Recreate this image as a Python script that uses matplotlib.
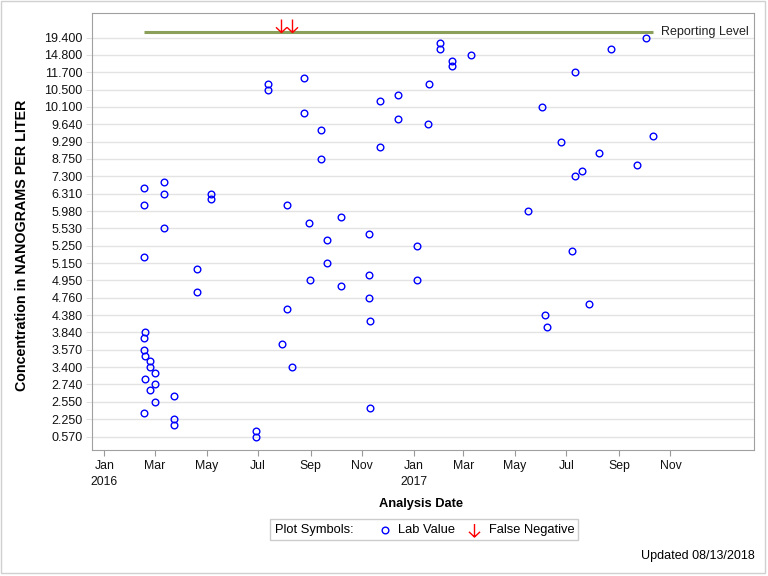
import numpy as np
import pandas as pd
import matplotlib
matplotlib.use('Agg')
import matplotlib.pyplot as plt
from matplotlib.path import Path
from matplotlib.lines import Line2D
from matplotlib.patches import Rectangle

plt.rcParams['font.family'] = ['Liberation Sans', 'DejaVu Sans']

# discrete concentration axis: every third level is labelled (bottom -> top)
tick_labels = ['0.570', '2.250', '2.550', '2.740', '3.400', '3.570', '3.840', '4.380',
               '4.760', '4.950', '5.150', '5.250', '5.530', '5.980', '6.310', '7.300',
               '8.750', '9.290', '9.640', '10.100', '10.500', '11.700', '14.800', '19.400']
reporting_level = 70  # one level above the top label

# lab values: analysis date and level on the discrete axis
lab_dates = ['2016-02-17'] * 6 + ['2016-02-18'] * 3 + ['2016-02-24'] * 3 + ['2016-03-01'] * 3 + \
    ['2016-03-11'] * 3 + ['2016-03-23'] * 3 + ['2016-04-20'] * 2 + ['2016-05-06'] * 2 + \
    ['2016-06-29'] * 2 + ['2016-07-13'] * 2 + ['2016-07-29'] + ['2016-08-04'] * 2 + \
    ['2016-08-10'] + ['2016-08-24'] * 2 + ['2016-08-30'] + ['2016-08-31'] + \
    ['2016-09-13'] * 2 + ['2016-09-21'] * 2 + ['2016-10-07'] * 2 + ['2016-11-09'] * 3 + \
    ['2016-11-11'] * 2 + ['2016-11-22'] * 2 + ['2016-12-13'] * 2 + ['2017-01-05'] * 2 + \
    ['2017-01-18', '2017-01-19'] + ['2017-02-01'] * 2 + ['2017-02-16'] * 2 + \
    ['2017-03-10', '2017-05-17', '2017-06-02', '2017-06-05', '2017-06-08', '2017-06-24',
     '2017-07-08'] + ['2017-07-11'] * 2 + \
    ['2017-07-19', '2017-07-28', '2017-08-08', '2017-08-23', '2017-09-23', '2017-10-03',
     '2017-10-11']
lab_levels = [43, 40, 31, 17, 15, 4,
              18, 14, 10,
              13, 12, 8,
              11, 9, 6,
              44, 42, 36,
              7, 3, 2,
              29, 25,
              42, 41,
              1, 0,
              61, 60,
              16,
              40, 22,
              12,
              62, 56,
              37,
              27,
              53, 48,
              34, 30,
              38, 26,
              35, 28, 24,
              20, 5,
              58, 50,
              59, 55,
              33, 27,
              54, 61,
              68, 67,
              65, 64,
              66, 39, 57, 21, 19, 51, 32,
              63, 45,
              46, 23, 49, 67, 47, 69, 52]

false_neg_dates = ['2016-07-28', '2016-08-10']

lab_dates = pd.to_datetime(lab_dates)
false_neg_dates = pd.to_datetime(false_neg_dates)

fig = plt.figure(figsize=(7.68, 5.76), dpi=100)
ax = fig.add_axes([0.1194, 0.2188, 0.8624, 0.7581])

# reporting level line across the data's date range
ax.plot([lab_dates.min(), lab_dates.max()], [reporting_level, reporting_level],
        color='#8aa05a', lw=2.2, solid_capstyle='butt', zorder=2)
ax.text(lab_dates.max() + pd.Timedelta(days=10), reporting_level, 'Reporting Level',
        fontsize=9, va='center', ha='left', color='#222222')

ax.plot(lab_dates, lab_levels, 'o', ms=4.8, mfc='none', mec='#0000ff', mew=1.0, zorder=3)

# down arrow, tip at the origin
arrow_tip = Path([(0, 0), (0, 2), (-0.85, 0.8), (0, 0), (0.85, 0.8)],
                 [Path.MOVETO, Path.LINETO, Path.MOVETO, Path.LINETO, Path.LINETO])
ax.plot(false_neg_dates, [reporting_level] * len(false_neg_dates), ls='none',
        marker=arrow_tip, ms=18.7, mfc='none', mec='#ff0000', mew=1.0, zorder=4)

ax.set_xlim(pd.Timestamp('2015-12-17'), pd.Timestamp('2018-02-08'))
ax.set_ylim(-2.33, 73.2)

xt = pd.date_range('2016-01-01', '2017-11-01', freq='2MS')
ax.set_xticks(xt)
ax.set_xticklabels([d.strftime('%b') + ('\n' + d.strftime('%Y') if d.month == 1 else '') for d in xt],
                   fontsize=8.8, linespacing=1.4)
ax.set_yticks(np.arange(0, 3 * len(tick_labels), 3))
ax.set_yticklabels(tick_labels, fontsize=9)

ax.grid(axis='y', color='#e3e3e3', lw=1.0)
ax.set_axisbelow(True)
ax.tick_params(axis='x', length=4.5, color='#999999', pad=3, labelcolor='#111111')
ax.tick_params(axis='y', length=4.5, color='#e0e0e0', pad=2, labelcolor='#111111')
for s in ax.spines.values():
    s.set_color('#a0a0a0')

fig.text(22 / 768, 1 - 245 / 576, 'Concentration in NANOGRAMS PER LITER', rotation=90,
         fontsize=10.3, fontweight='bold', ha='center', va='center')
fig.text(421 / 768, 1 - 504 / 576, 'Analysis Date', fontsize=9.3, fontweight='bold',
         ha='center', va='center')

# legend box
fig.add_artist(Rectangle((270 / 768, 1 - 540 / 576), 308 / 768, 21 / 576,
                         transform=fig.transFigure, fill=False, ec='#cccccc', lw=1.0))
ly = 1 - 530 / 576
fig.text(275 / 768, ly, 'Plot Symbols:', fontsize=9.3, va='center', ha='left')
fig.add_artist(Line2D([385 / 768], [ly], transform=fig.transFigure, marker='o', ms=4.8,
                      mfc='none', mec='#0000ff', mew=1.0, ls='none'))
fig.text(398 / 768, ly, 'Lab Value', fontsize=9.3, va='center', ha='left')
arrow_mid = Path([(0, -1), (0, 1), (-0.85, -0.2), (0, -1), (0.85, -0.2)],
                 [Path.MOVETO, Path.LINETO, Path.MOVETO, Path.LINETO, Path.LINETO])
fig.add_artist(Line2D([474 / 768], [ly], transform=fig.transFigure, marker=arrow_mid, ms=9.4,
                      mfc='none', mec='#ff0000', mew=1.0, ls='none'))
fig.text(489 / 768, ly, 'False Negative', fontsize=9.3, va='center', ha='left')

fig.text(755 / 768, 1 - 556 / 576, 'Updated 08/13/2018', fontsize=9, ha='right', va='center')

fig.add_artist(Rectangle((1 / 768, 3 / 576), 764 / 768, 572 / 576, transform=fig.transFigure,
                         fill=False, ec='#d0d0d0', lw=1.0))

fig.savefig('out.png', dpi=100)
